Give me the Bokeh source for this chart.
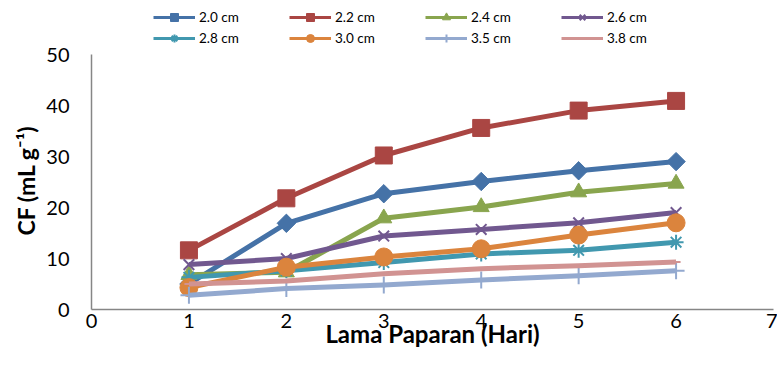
import math
from bokeh.plotting import figure
from bokeh.models import Range1d, FixedTicker, Legend, LegendItem, ColumnDataSource, Title
from bokeh.embed import file_html
from bokeh.resources import INLINE

days = [1, 2, 3, 4, 5, 6]
labels = ["2.0 cm", "2.2 cm", "2.4 cm", "2.6 cm", "2.8 cm", "3.0 cm", "3.5 cm", "3.8 cm"]
s20 = [5.0, 16.9, 22.7, 25.1, 27.2, 29.0]
s22 = [11.6, 21.8, 30.2, 35.6, 39.0, 40.9]
s24 = [6.8, 7.3, 17.9, 20.1, 23.0, 24.7]
s26 = [8.8, 10.0, 14.4, 15.7, 17.0, 19.0]
s28 = [6.3, 7.6, 9.2, 10.9, 11.6, 13.2]
s30 = [4.3, 8.3, 10.3, 11.9, 14.6, 17.0]
s35 = [2.8, 4.1, 4.8, 5.8, 6.6, 7.6]
s38 = [5.0, 5.6, 7.0, 8.0, 8.6, 9.3]
series = [s20, s22, s24, s26, s28, s30, s35, s38]
x_ticks = [0, 1, 2, 3, 4, 5, 6, 7]
y_ticks = [0, 10, 20, 30, 40, 50]

colors = ["#4572A7", "#AA4643", "#89A54E", "#71588F", "#4198AF", "#DB843D", "#93A9CF", "#D19392"]
markers = ["square", "square", "triangle", "x", "asterisk", "circle", "cross", "dash"]
angles = [math.pi / 4, 0, 0, 0, 0, 0, 0, 0]
sizes = [13, 17, 16, 15, 15, 18, 17, 9]
mlw = [1, 1, 1, 2, 2, 1, 2, 2]

FONT = "Lato"

# frame spans the full height above the x axis; y axis line is bounded to 0..50
p = figure(width=777, height=358, output_backend="svg", toolbar_location=None,
           x_range=Range1d(0, 7), y_range=Range1d(0, 50 * 309 / 255),
           min_border_left=91, min_border_right=4, min_border_top=0, min_border_bottom=49)
p.outline_line_color = None
p.xgrid.visible = False
p.ygrid.visible = False
p.background_fill_color = "white"

for ax in (p.xaxis[0], p.yaxis[0]):
    ax.axis_line_color = "#868686"
    ax.axis_line_width = 1.5
    ax.major_tick_line_color = None
    ax.minor_tick_line_color = None
    ax.major_tick_out = 0
    ax.major_tick_in = 0
    ax.major_label_text_font = FONT
    ax.major_label_text_font_size = "20px"
    ax.major_label_text_color = "#000000"
    ax.axis_label_text_font = FONT
    ax.axis_label_text_font_style = "bold"
    ax.axis_label_text_color = "#000000"
    ax.axis_label_text_font_size = "24px"

p.yaxis.bounds = (0, 50)
p.xaxis.ticker = FixedTicker(ticks=x_ticks)
p.yaxis.ticker = FixedTicker(ticks=y_ticks)
p.xaxis.major_label_standoff = 4
p.yaxis.major_label_standoff = 22
p.xaxis.axis_label = "Lama Paparan (Hari)"
p.xaxis.axis_label_standoff = -12

ytitle = Title(text="CF (mL g⁻¹)", align="left", offset=74, standoff=8,
               text_font=FONT, text_font_size="23px", text_font_style="bold",
               text_color="#000000")
p.add_layout(ytitle, "left")

items = []
for i, (lab, ys) in enumerate(zip(labels, series)):
    src = ColumnDataSource(dict(x=days, y=ys))
    p.line("x", "y", source=src, line_color=colors[i], line_width=5, line_join="round")
    sc = p.scatter("x", "y", source=src, marker=markers[i], size=sizes[i], angle=angles[i],
                   fill_color=colors[i], line_color=colors[i], line_width=mlw[i])
    dummy = p.line(x=[float("nan")], y=[float("nan")], line_color=colors[i], line_width=3)
    items.append(LegendItem(label=lab, renderers=[dummy, sc]))

legend = Legend(items=items, orientation="horizontal", ncols=4,
                location=(62, 261), padding=0, margin=0, spacing=1,
                glyph_width=42, glyph_height=20, label_height=20, label_width=89,
                label_standoff=4, label_text_font=FONT, label_text_font_size="13.5px",
                label_text_color="#000000", background_fill_alpha=0, border_line_alpha=0)
p.add_layout(legend, "center")

open("out.html", "w").write(file_html(p, INLINE))
